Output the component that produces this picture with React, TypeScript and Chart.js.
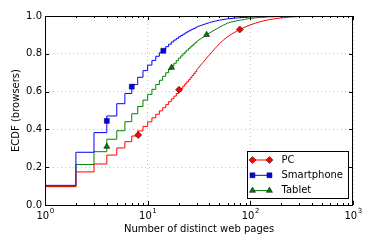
import React, { useEffect, useRef } from 'react';
import { Chart, registerables } from 'chart.js';

Chart.register(...registerables);

// ---- data ----
const STEP_X = [1, 2, 3, 4, 5, 6, 7, 8, 9, 10, 11, 12, 13, 14, 15, 16, 17, 18, 19, 20, 21, 22, 23, 24, 25, 26, 27, 28, 29, 30];
const PC_STEPS = [0.097, 0.175, 0.217, 0.264, 0.302, 0.335, 0.365, 0.392, 0.416, 0.44, 0.461, 0.48, 0.498, 0.515, 0.531, 0.547, 0.562, 0.576, 0.59, 0.604, 0.617, 0.629, 0.641, 0.652, 0.663, 0.674, 0.685, 0.695, 0.705, 0.714];
const PHONE_STEPS = [0.104, 0.279, 0.383, 0.471, 0.536, 0.59, 0.637, 0.676, 0.711, 0.74, 0.765, 0.787, 0.806, 0.823, 0.838, 0.851, 0.863, 0.873, 0.882, 0.89, 0.897, 0.904, 0.91, 0.916, 0.921, 0.926, 0.93, 0.934, 0.938, 0.942];
const TABLET_STEPS = [0.098, 0.214, 0.282, 0.348, 0.393, 0.441, 0.483, 0.521, 0.555, 0.585, 0.612, 0.637, 0.66, 0.681, 0.7, 0.718, 0.735, 0.75, 0.764, 0.777, 0.789, 0.8, 0.81, 0.82, 0.829, 0.837, 0.845, 0.852, 0.859, 0.865];

const TAIL_X = [30, 40, 50, 60, 80, 100, 125, 150, 200, 300, 500, 1000];
const PC_TAIL = [0.714, 0.795, 0.853, 0.89, 0.93, 0.953, 0.97, 0.98, 0.99, 0.997, 1.0, 1.0];
const PHONE_TAIL = [0.942, 0.965, 0.978, 0.985, 0.991, 0.995, 0.997, 0.999, 1.0, 1.0, 1.0, 1.0];
const TABLET_TAIL = [0.865, 0.91, 0.94, 0.962, 0.978, 0.987, 0.992, 0.995, 0.998, 1.0, 1.0, 1.0];

const PC_MARK_X = [8.1, 20.2, 79];
const PC_MARK_Y = [0.37, 0.61, 0.929];
const PHONE_MARK_X = [4, 7, 14.2];
const PHONE_MARK_Y = [0.445, 0.626, 0.816];
const TABLET_MARK_X = [4, 17.1, 37.5];
const TABLET_MARK_Y = [0.309, 0.727, 0.901];

const SERIES = ['PC', 'Smartphone', 'Tablet'];
const X_MAJOR = [1, 10, 100, 1000];
const X_EXP = ['0', '1', '2', '3'];
const Y_TICKS = [0, 0.2, 0.4, 0.6, 0.8, 1.0];
const X_TITLE = 'Number of distinct web pages';
const Y_TITLE = 'ECDF (browsers)';

const COLORS = ['#ff0000', '#0000ff', '#008000'];
const STYLES = ['rectRot', 'rect', 'triangle'];
const FONT = "'DejaVu Sans', sans-serif";

const toPts = (xs: number[], ys: number[]) => xs.map((x, i) => ({ x, y: ys[i] }));

function drawMarker(ctx: CanvasRenderingContext2D, style: string, x: number, y: number, r: number) {
  ctx.beginPath();
  if (style === 'rect') {
    const s = r * Math.SQRT1_2;
    ctx.rect(x - s, y - s, 2 * s, 2 * s);
  } else if (style === 'rectRot') {
    ctx.moveTo(x - r, y);
    ctx.lineTo(x, y - r);
    ctx.lineTo(x + r, y);
    ctx.lineTo(x, y + r);
    ctx.closePath();
  } else {
    for (let k = 0; k < 3; k++) {
      const a = (k * 2 * Math.PI) / 3;
      const px = x + Math.sin(a) * r;
      const py = y - Math.cos(a) * r;
      if (k === 0) ctx.moveTo(px, py);
      else ctx.lineTo(px, py);
    }
    ctx.closePath();
  }
  ctx.fill();
  ctx.stroke();
}

const axesPlugin = {
  id: 'mplAxes',
  afterDatasetsDraw(chart: any) {
    const { ctx, chartArea } = chart;
    const { left, right, top, bottom } = chartArea;
    const x = chart.scales.x;
    const y = chart.scales.y;
    ctx.save();
    ctx.strokeStyle = '#000';
    ctx.lineWidth = 1;
    ctx.beginPath();
    Y_TICKS.forEach((v) => {
      const py = Math.round(y.getPixelForValue(v)) + 0.5;
      ctx.moveTo(left, py);
      ctx.lineTo(left + 4, py);
      ctx.moveTo(right, py);
      ctx.lineTo(right - 4, py);
    });
    X_MAJOR.forEach((v, i) => {
      const px = Math.round(x.getPixelForValue(v)) + 0.5;
      ctx.moveTo(px, bottom);
      ctx.lineTo(px, bottom - 4);
      ctx.moveTo(px, top);
      ctx.lineTo(px, top + 4);
      if (i < X_MAJOR.length - 1) {
        for (let k = 2; k <= 9; k++) {
          const mx = Math.round(x.getPixelForValue(v * k)) + 0.5;
          ctx.moveTo(mx, bottom);
          ctx.lineTo(mx, bottom - 2);
          ctx.moveTo(mx, top);
          ctx.lineTo(mx, top + 2);
        }
      }
    });
    ctx.stroke();
    ctx.strokeRect(Math.round(left) + 0.5, Math.round(top) + 0.5, Math.round(right - left) - 1, Math.round(bottom - top));

    ctx.fillStyle = '#000';
    ctx.textBaseline = 'alphabetic';
    ctx.textAlign = 'left';
    X_MAJOR.forEach((v, i) => {
      const px = x.getPixelForValue(v);
      ctx.font = `10px ${FONT}`;
      const wBase = ctx.measureText('10').width;
      ctx.font = `7px ${FONT}`;
      const wExp = ctx.measureText(X_EXP[i]).width;
      const start = px - (wBase + wExp) / 2;
      ctx.font = `10px ${FONT}`;
      ctx.fillText('10', start, bottom + 13.5);
      ctx.font = `7px ${FONT}`;
      ctx.fillText(X_EXP[i], start + wBase + 0.5, bottom + 8);
    });

    ctx.font = `10px ${FONT}`;
    ctx.textAlign = 'center';
    ctx.fillText(X_TITLE, (left + right) / 2, bottom + 26.5);
    ctx.save();
    ctx.translate(19, (top + bottom) / 2);
    ctx.rotate(-Math.PI / 2);
    ctx.fillText(Y_TITLE, 0, 0);
    ctx.restore();
    ctx.restore();
  },
  afterDraw(chart: any) {
    const { ctx, chartArea } = chart;
    const { right, bottom } = chartArea;
    ctx.save();
    ctx.font = `10px ${FONT}`;
    const maxW = Math.max(...SERIES.map((s) => ctx.measureText(s).width));
    const boxR = right - 5;
    const boxB = bottom - 7;
    const rowH = 15.3;
    const boxH = 47;
    const boxW = 5 + 17 + 12 + maxW + 5;
    const boxL = boxR - boxW;
    const boxT = boxB - boxH;
    ctx.fillStyle = '#fff';
    ctx.fillRect(boxL, boxT, boxW, boxH);
    ctx.strokeStyle = '#000';
    ctx.lineWidth = 1;
    ctx.strokeRect(Math.round(boxL) + 0.5, Math.round(boxT) + 0.5, Math.round(boxW), Math.round(boxH));
    SERIES.forEach((s, i) => {
      const cy = boxT + 9 + i * rowH;
      const lx0 = boxL + 5;
      const lx1 = lx0 + 17;
      ctx.strokeStyle = COLORS[i];
      ctx.lineWidth = 1;
      ctx.beginPath();
      ctx.moveTo(lx0, cy);
      ctx.lineTo(lx1, cy);
      ctx.stroke();
      ctx.fillStyle = COLORS[i];
      ctx.strokeStyle = '#000';
      ctx.lineWidth = 0.5;
      drawMarker(ctx, STYLES[i], lx0, cy, 3.5);
      drawMarker(ctx, STYLES[i], lx1, cy, 3.5);
      ctx.fillStyle = '#000';
      ctx.textAlign = 'left';
      ctx.textBaseline = 'middle';
      ctx.fillText(s, lx1 + 12, cy);
    });
    ctx.restore();
  },
};

export default function App() {
  const ref = useRef<HTMLCanvasElement | null>(null);
  useEffect(() => {
    if (!ref.current) return;
    Chart.defaults.font.family = FONT;
    Chart.defaults.font.size = 10;
    Chart.defaults.color = '#000';
    const steps = [PC_STEPS, PHONE_STEPS, TABLET_STEPS];
    const tails = [PC_TAIL, PHONE_TAIL, TABLET_TAIL];
    const mx = [PC_MARK_X, PHONE_MARK_X, TABLET_MARK_X];
    const my = [PC_MARK_Y, PHONE_MARK_Y, TABLET_MARK_Y];
    const datasets: any[] = [];
    SERIES.forEach((s, i) => {
      datasets.push({
        label: s,
        data: toPts(STEP_X, steps[i]),
        borderColor: COLORS[i],
        borderWidth: 1,
        pointRadius: 0,
        stepped: true,
        fill: false,
        order: 10 + i,
      });
      datasets.push({
        label: s + ' tail',
        data: toPts(TAIL_X, tails[i]),
        borderColor: COLORS[i],
        borderWidth: 1,
        pointRadius: 0,
        cubicInterpolationMode: 'monotone',
        fill: false,
        order: 10 + i,
      });
      datasets.push({
        label: s + ' markers',
        data: toPts(mx[i], my[i]),
        showLine: false,
        pointStyle: STYLES[i],
        pointRadius: 3.5,
        pointBackgroundColor: COLORS[i],
        pointBorderColor: '#000',
        pointBorderWidth: 0.5,
        order: i,
      });
    });
    const chart = new Chart(ref.current, {
      type: 'line',
      data: { datasets },
      options: {
        animation: false,
        responsive: true,
        maintainAspectRatio: false,
        events: [],
        layout: { padding: { top: 16, right: 21, left: 0, bottom: 0 } },
        plugins: { legend: { display: false }, tooltip: { enabled: false } },
        scales: {
          x: {
            type: 'logarithmic',
            min: 1,
            max: 1000,
            afterBuildTicks: (scale: any) => {
              scale.ticks = X_MAJOR.map((v) => ({ value: v }));
            },
            afterFit: (scale: any) => {
              scale.height = 44;
            },
            ticks: { display: false },
            grid: { color: '#c4c4c4', lineWidth: 1, drawTicks: false },
            border: { display: false, dash: [1, 3] },
          },
          y: {
            type: 'linear',
            min: 0,
            max: 1,
            afterBuildTicks: (scale: any) => {
              scale.ticks = Y_TICKS.map((v) => ({ value: v }));
            },
            afterFit: (scale: any) => {
              scale.width = 45;
            },
            ticks: {
              padding: 3,
              color: '#000',
              font: { size: 10, family: FONT },
              callback: (v: any) => Number(v).toFixed(1),
            },
            grid: { color: '#c4c4c4', lineWidth: 1, drawTicks: false },
            border: { display: false, dash: [1, 3] },
          },
        },
      },
      plugins: [axesPlugin],
    });
    return () => chart.destroy();
  }, []);
  return (
    <div style={{ position: 'fixed', left: 0, top: 0, width: 374, height: 249, background: '#fff' }}>
      <canvas ref={ref} />
    </div>
  );
}
